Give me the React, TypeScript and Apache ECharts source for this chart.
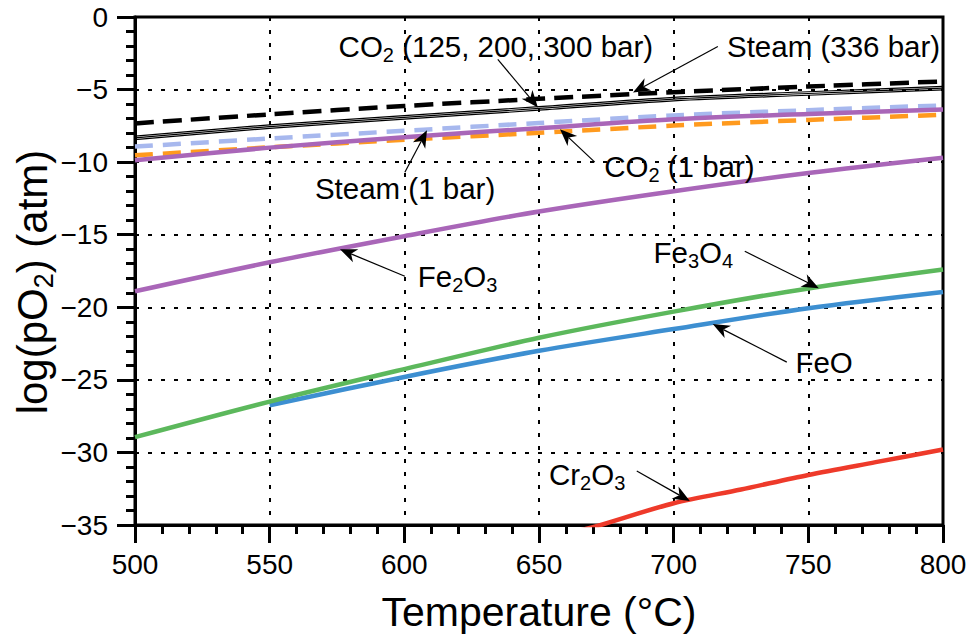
import React, { useEffect, useRef } from 'react';
import * as echarts from 'echarts';

const temps = [500, 550, 600, 650, 700, 750, 800];
const steam336 = [-7.33, -6.71, -6.13, -5.64, -5.18, -4.79, -4.44];
const co2_300 = [-8.21, -7.43, -6.8, -6.18, -5.54, -5.15, -4.78];
const co2_200 = [-8.33, -7.55, -6.92, -6.3, -5.66, -5.27, -4.9];
const co2_125 = [-8.45, -7.67, -7.04, -6.42, -5.78, -5.39, -5.02];
const steam1 = [-8.93, -8.37, -7.84, -7.3, -6.78, -6.42, -6.09];
const co2_1 = [-9.53, -8.98, -8.46, -7.98, -7.48, -7.09, -6.74];
const upperPurple = [-9.87, -9.0, -8.28, -7.66, -7.05, -6.68, -6.37];
const fe2o3 = [-18.9, -16.9, -15.1, -13.4, -12.0, -10.75, -9.7];
const fe3o4 = [-28.95, -26.5, -24.26, -22.1, -20.3, -18.7, -17.4];
const feoTemps = [550, 600, 650, 700, 750, 800];
const feo = [-26.75, -24.8, -23.0, -21.5, -20.06, -18.94];
const cr2o3Temps = [660, 670, 700, 725, 750, 775, 800];
const cr2o3 = [-35.6, -35.15, -33.5, -32.55, -31.55, -30.67, -29.8];

const xTicks = [500, 550, 600, 650, 700, 750, 800];
const yTicks = [0, -5, -10, -15, -20, -25, -30, -35];

const annotations = [
  { text: 'CO{s|2} (125, 200, 300 bar)', at: [575.6, -2.06], from: [634.7, -2.92], tip: [649.6, -6.23] },
  { text: 'Steam (336 bar)', at: [719.8, -2.03], from: [716.4, -2.03], tip: [684.9, -5.2] },
  { text: 'Steam (1 bar)', at: [566.8, -11.8], from: [600.2, -10.7], tip: [608.4, -7.81] },
  { text: 'CO{s|2} (1 bar)', at: [674.2, -10.29], from: [670.7, -10.0], tip: [657.8, -7.74] },
  { text: 'Fe{s|2}O{s|3}', at: [605.0, -17.9], from: [600.2, -17.86], tip: [576.1, -16.0] },
  { text: 'Fe{s|3}O{s|4}', at: [692.5, -16.2], from: [726.4, -16.14], tip: [753.9, -18.68] },
  { text: 'FeO', at: [745.2, -23.78], from: [742.0, -23.78], tip: [714.5, -21.16] },
  { text: 'Cr{s|2}O{s|3}', at: [653.7, -31.55], from: [686.3, -31.28], tip: [706.0, -33.35] },
];

const FONT = '"Liberation Sans", Arial, Helvetica, sans-serif';

const pairs = (xs: number[], ys: number[]) => xs.map((x, i) => [x, ys[i]]);

function lineSeries(name: string, xs: number[], ys: number[], color: string, width: number, type: any = 'solid', z = 2) {
  return {
    name,
    type: 'line',
    data: pairs(xs, ys),
    showSymbol: false,
    symbol: 'none',
    smooth: 0.3,
    clip: true,
    z,
    lineStyle: { color, width, type, cap: 'butt' },
  };
}

const axisCommon = {
  axisLine: { show: true, onZero: false, lineStyle: { color: '#000', width: 3 } },
  axisTick: { show: true, length: 18, inside: false, lineStyle: { color: '#000', width: 3 } },
  minorTick: { show: true, splitNumber: 5, length: 9, lineStyle: { color: '#000', width: 3 } },
  splitLine: { show: true, lineStyle: { color: '#000', width: 2, type: [4, 9] } },
};

export default function App() {
  const ref = useRef<HTMLDivElement>(null);
  useEffect(() => {
    if (!ref.current) return;
    const chart = echarts.init(ref.current, undefined, { renderer: 'svg' });
    const option: any = {
      animation: false,
      backgroundColor: '#fff',
      textStyle: { fontFamily: FONT },
      grid: {
        left: 135, right: 27, top: 17, bottom: 112,
        show: true, borderColor: '#000', borderWidth: 3, containLabel: false,
      },
      xAxis: {
        type: 'value', min: 500, max: 800, interval: 50,
        name: 'Temperature (°C)', nameLocation: 'middle', nameGap: 66,
        nameTextStyle: { fontSize: 41, color: '#000', fontFamily: FONT },
        ...axisCommon,
        axisLabel: {
          fontSize: 28, color: '#000', margin: 25, fontFamily: FONT,
          formatter: (v: number) => (xTicks.includes(v) ? String(v) : ''),
        },
      },
      yAxis: {
        type: 'value', min: -35, max: 0, interval: 5,
        ...axisCommon,
        axisLabel: {
          fontSize: 28, color: '#000', margin: 27, fontFamily: FONT,
          formatter: (v: number) => (yTicks.includes(v) ? String(v).replace('-', '\u2212') : ''),
        },
      },
      series: [
        lineSeries('Cr2O3', cr2o3Temps, cr2o3, '#ee3a2a', 4.5),
        lineSeries('FeO', feoTemps, feo, '#3d8fd1', 4.5),
        lineSeries('Fe3O4', temps, fe3o4, '#5cb85c', 4.5),
        lineSeries('Fe2O3', temps, fe2o3, '#a966b8', 4.5),
        lineSeries('CO2 1 bar', temps, co2_1, '#ff9a1e', 4.5, [18, 10], 3),
        lineSeries('Steam 1 bar', temps, steam1, '#a7b8ee', 4.5, [18, 10], 3),
        lineSeries('upper', temps, upperPurple, '#a966b8', 4.5, 'solid', 4),
        lineSeries('CO2 125', temps, co2_125, '#000', 1.2, 'solid', 5),
        lineSeries('CO2 200', temps, co2_200, '#000', 1.2, 'solid', 5),
        lineSeries('CO2 300', temps, co2_300, '#000', 1.2, 'solid', 5),
        lineSeries('Steam 336', temps, steam336, '#000', 4.5, [19, 9], 5),
      ],
    };
    chart.setOption(option);

    const px = (p: number[]) => chart.convertToPixel({ gridIndex: 0 }, p) as number[];
    const elements: any[] = [];
    const L = 17, W = 7, N = 5;
    annotations.forEach((a) => {
      const t = px(a.tip);
      const s = px(a.from);
      const p = px(a.at);
      const dx = t[0] - s[0], dy = t[1] - s[1];
      const len = Math.hypot(dx, dy);
      const ux = dx / len, uy = dy / len;
      const nx = -uy, ny = ux;
      const bx = t[0] - L * ux, by = t[1] - L * uy;
      const mx = t[0] - (L - N) * ux, my = t[1] - (L - N) * uy;
      elements.push({
        type: 'line', z: 100,
        shape: { x1: s[0], y1: s[1], x2: mx, y2: my },
        style: { stroke: '#000', lineWidth: 1.2 },
      });
      elements.push({
        type: 'polygon', z: 100,
        shape: { points: [[t[0], t[1]], [bx + W * nx, by + W * ny], [mx, my], [bx - W * nx, by - W * ny]] },
        style: { fill: '#000' },
      });
      elements.push({
        type: 'text', z: 101, x: p[0], y: p[1],
        style: {
          text: a.text, fill: '#000', fontSize: 29.5, fontFamily: FONT, lineHeight: 37,
          align: 'left', verticalAlign: 'middle',
          rich: { s: { fontSize: 20, fontFamily: FONT, fill: '#000', verticalAlign: 'bottom', lineHeight: 20 } },
        },
      });
    });
    // y-axis title
    elements.push({
      type: 'text', z: 101, x: 32, y: 282, rotation: Math.PI / 2,
      style: {
        text: '{n|log(pO}{s|2}{n|) (atm)}', fill: '#000', fontSize: 42, fontFamily: FONT,
        align: 'center', verticalAlign: 'middle',
        rich: {
          n: { fontSize: 42, fontFamily: FONT, fill: '#000', lineHeight: 50 },
          s: { fontSize: 27, fontFamily: FONT, fill: '#000', verticalAlign: 'bottom', lineHeight: 27 },
        },
      },
    });
    chart.setOption({ graphic: { elements } });
    return () => chart.dispose();
  }, []);
  return <div ref={ref} style={{ position: 'absolute', left: 0, top: 0, width: 970, height: 637 }} />;
}
